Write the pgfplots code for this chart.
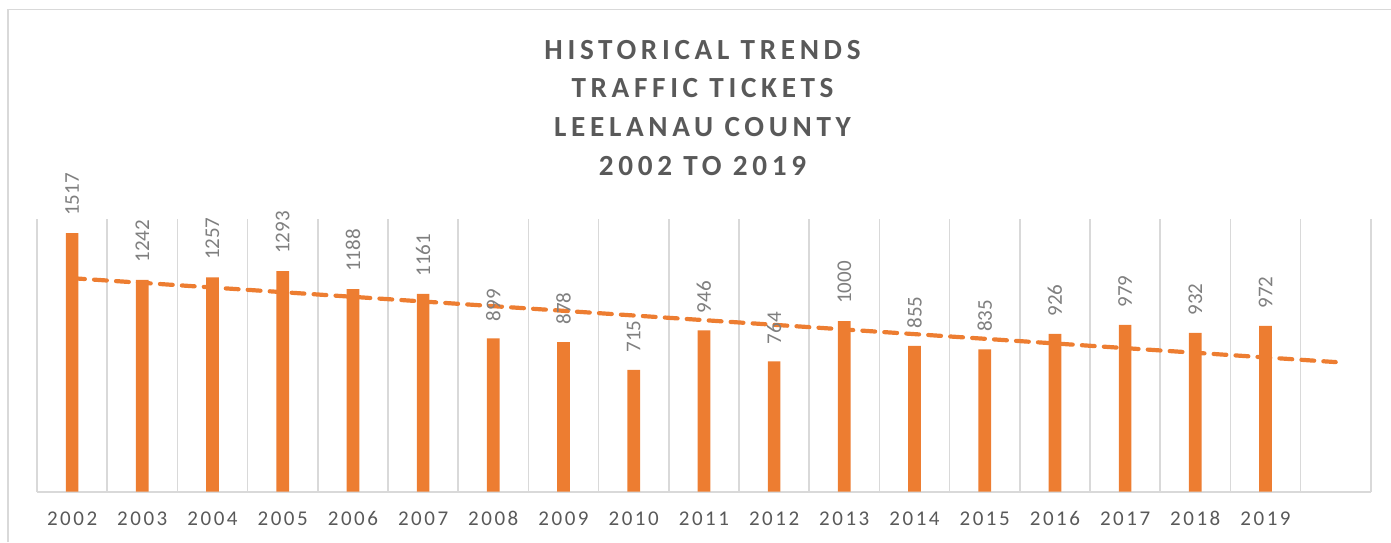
\documentclass[border=0pt]{standalone}
\usepackage{fontspec}
\setmainfont{Carlito}
\usepackage{pgfplots}
\pgfplotsset{compat=1.18}
\definecolor{barorange}{HTML}{ED7D31}
\definecolor{gridgray}{HTML}{D9D9D9}
\definecolor{titlegray}{HTML}{595959}
\definecolor{labelgray}{HTML}{7F7F7F}
\begin{document}
\begin{tikzpicture}
\useasboundingbox (0,0) rectangle (695.5pt,271pt);
\draw[gridgray, line width=0.9pt] (4pt,0) -- (4pt,266.25pt) -- (700pt,266.25pt);
\begin{axis}[
  at={(18.5pt,25.15pt)}, anchor=south west,
  width=666.9pt, height=136.4pt, scale only axis,
  xmin=-0.5, xmax=18.5, ymin=0, ymax=1600,
  axis x line=bottom, axis y line=none,
  x axis line style={gridgray, line width=0.9pt, -},
  xtick={0,...,17},
  xticklabels={2002,2003,2004,2005,2006,2007,2008,2009,2010,2011,2012,2013,2014,2015,2016,2017,2018,2019},
  major tick length=0pt, minor tick length=0pt,
  minor xtick={-0.5,0.5,...,18.5},
  xminorgrids=true,
  minor grid style={gridgray, line width=0.8pt},
  xticklabel style={anchor=base, yshift=-16.7pt, text=titlegray,
     font={\fontsize{10.5}{12}\selectfont\addfontfeatures{LetterSpace=12}}},
  ytick=\empty,
  /pgf/number format/.cd, 1000 sep={}, assume math mode=true,
]
\addplot[ybar, bar width=6.35pt, fill=barorange, draw=none,
  nodes near coords,
  nodes near coords style={rotate=90, anchor=west, inner xsep=8.5pt, inner ysep=0pt,
     text=labelgray, font={\fontsize{10.5}{12}\selectfont}}]
coordinates {
(0,1517) (1,1242) (2,1257) (3,1293) (4,1188) (5,1161) (6,899) (7,878) (8,715)
(9,946) (10,764) (11,1000) (12,855) (13,835) (14,926) (15,979) (16,932) (17,972)
};
\addplot[barorange, line width=2.1pt, line cap=round, dash pattern=on 6.4pt off 4.6pt, mark=none]
coordinates {(0,1252.3) (18,760.2)};
\end{axis}
\begin{scope}[every node/.style={anchor=base, text=titlegray, inner sep=0pt,
   font={\fontsize{14.6}{16}\selectfont\bfseries\addfontfeatures{LetterSpace=16}}}]
\node at (351.25pt,241.35pt) {HISTORICAL TRENDS};
\node at (351.25pt,222.05pt) {TRAFFIC TICKETS};
\node at (351.25pt,202.75pt) {LEELANAU COUNTY};
\node at (351.25pt,183.5pt) {2002 TO 2019};
\end{scope}
\end{tikzpicture}
\end{document}
